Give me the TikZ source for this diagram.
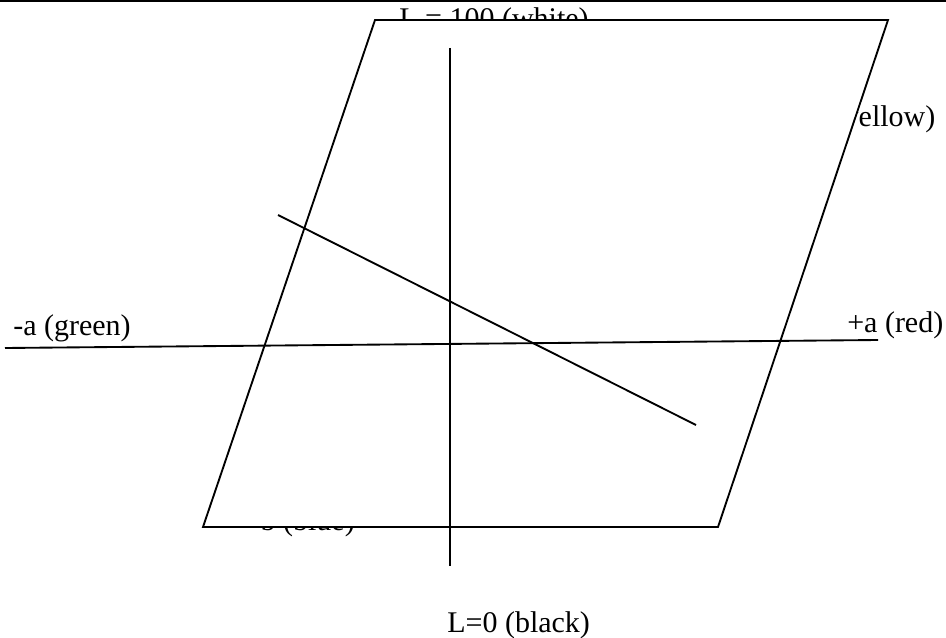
\documentclass[tikz,border=0pt]{standalone}
\usepackage{fontspec}
\setmainfont{Liberation Serif}
\usetikzlibrary{positioning,calc}

\begin{document}
\begin{tikzpicture}[
    x=0.75pt, y=-0.75pt,
    axislabel/.style={inner sep=0pt, font=\fontsize{22.5}{27}\selectfont},
    axis/.style={line width=1.4pt, black},
    plane/.style={line width=1.4pt, black, fill=white, line join=miter}
]
\useasboundingbox (0,0) rectangle (946,638);

% Labels (partly hidden behind the plane)
\node[axislabel, anchor=base west] (white) at (399,29) {L = 100 (white)};
\node[axislabel, anchor=base west] (yellow) at (794,127) {+b (yellow)};
\node[axislabel, anchor=base east] (blue) at (355,530) {-b (blue)};
\node[axislabel, anchor=base west] (green) at (13,335) {-a (green)};
\node[axislabel, anchor=base west] (red) at (847,332) {+a (red)};
\node[axislabel, anchor=base west] (black) at (447,632) {L=0 (black)};

% Plane
\coordinate (pTL) at (375,20);
\coordinate (pTR) at (888,20);
\coordinate (pBR) at (718,527);
\coordinate (pBL) at (203,527);
\draw[plane] (pTL) -- (pTR) -- (pBR) -- (pBL) -- cycle;

% Axes
\coordinate (topL) at (0,1);
\coordinate (topR) at (946,1);
\coordinate (lUp) at (450,48);
\coordinate (lDown) at (450,566);
\coordinate (aNeg) at (5,348);
\coordinate (aPos) at (878,340);
\coordinate (bPos) at (278,215);
\coordinate (bNeg) at (696,425);
\foreach \a/\b in {topL/topR, lUp/lDown, aNeg/aPos, bPos/bNeg} {
    \draw[axis] (\a) -- (\b);
}

\end{tikzpicture}
\end{document}
